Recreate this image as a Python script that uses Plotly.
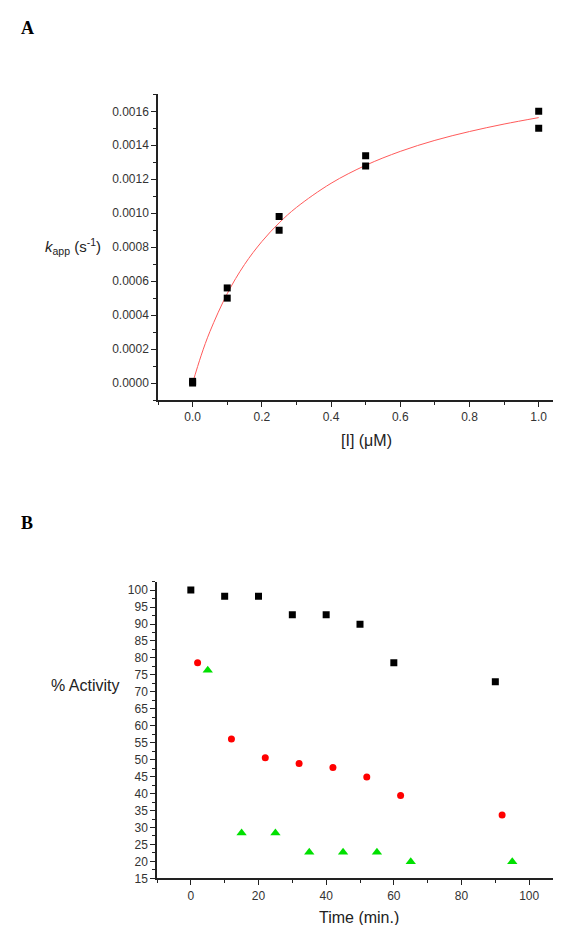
import plotly.graph_objects as go

W, H = 561, 925

# ---------- Panel A data ----------
conc = [0.0, 0.0, 0.1, 0.1, 0.25, 0.25, 0.5, 0.5, 1.0, 1.0]
kapp = [0.00001, 0.0, 0.00056, 0.00050, 0.00098, 0.00090, 0.001338, 0.001278, 0.00160, 0.00150]

fit_x = [0.0, 0.025, 0.05, 0.1, 0.15, 0.2, 0.25, 0.3, 0.4, 0.5, 0.6, 0.7, 0.8, 0.9, 1.0]
fit_y = [0.0, 0.000164, 0.000303, 0.000526, 0.000698, 0.000833, 0.000943, 0.001034,
         0.001176, 0.001282, 0.001364, 0.001429, 0.001481, 0.001525, 0.001563]

# ---------- Panel B data ----------
t_black = [0, 10, 20, 30, 40, 50, 60, 90]
act_black = [100, 98.2, 98.2, 92.7, 92.7, 89.9, 78.6, 73.0]

t_red = [2, 12, 22, 32, 42, 52, 62, 92]
act_red = [78.6, 56.1, 50.6, 48.9, 47.7, 44.9, 39.4, 33.7]

t_green = [5, 15, 25, 35, 45, 55, 65, 95]
act_green = [76.4, 28.4, 28.4, 22.7, 22.7, 22.7, 19.9, 19.9]

FONT = "Liberation Sans, Arial, Helvetica, sans-serif"
SERIF = "Liberation Serif, Times New Roman, serif"
TICKC = "#333333"

fig = go.Figure()

fig.add_trace(go.Scatter(x=fit_x, y=fit_y, mode="lines", line=dict(color="#ff5a5a", width=1, shape="spline"),
                         xaxis="x", yaxis="y", showlegend=False, hoverinfo="skip"))
fig.add_trace(go.Scatter(x=conc, y=kapp, mode="markers",
                         marker=dict(symbol="square", size=7, color="black"),
                         xaxis="x", yaxis="y", showlegend=False))

fig.add_trace(go.Scatter(x=t_black, y=act_black, mode="markers",
                         marker=dict(symbol="square", size=7, color="black"),
                         xaxis="x2", yaxis="y2", showlegend=False))
fig.add_trace(go.Scatter(x=t_red, y=act_red, mode="markers",
                         marker=dict(symbol="circle", size=7, color="#ff0000"),
                         xaxis="x2", yaxis="y2", showlegend=False))
fig.add_trace(go.Scatter(x=t_green, y=act_green, mode="markers",
                         marker=dict(symbol="triangle-up", size=9, color="#00e000"),
                         xaxis="x2", yaxis="y2", showlegend=False))


def px(x):
    return x / W


def py(y):
    return 1 - y / H


axis_common = dict(showline=True, linecolor="#222222", linewidth=1.5, ticks="outside",
                   ticklen=5, tickwidth=1.2, tickcolor="#222222", showgrid=False, zeroline=False,
                   tickfont=dict(family=FONT, size=12, color=TICKC))

fig.update_layout(
    width=W, height=H, margin=dict(l=0, r=0, t=0, b=0),
    plot_bgcolor="white", paper_bgcolor="white",
    xaxis=dict(domain=[px(150), px(548)], anchor="y", range=[-0.1, 1.05], dtick=0.2, tick0=0,
               tickformat=".1f",
               minor=dict(ticks="outside", dtick=0.1, ticklen=3, tickcolor="#222222"), **axis_common),
    yaxis=dict(domain=[py(395), py(87)], anchor="x", range=[-0.0001, 0.0017], dtick=0.0002, tick0=0,
               tickformat=".4f",
               minor=dict(ticks="outside", dtick=0.0001, ticklen=3, tickcolor="#222222"), **axis_common),
    xaxis2=dict(domain=[px(149), px(555)], anchor="y2", range=[-10, 110], dtick=20, tick0=0,
                minor=dict(ticks="outside", dtick=10, ticklen=3, tickcolor="#222222"), **axis_common),
    yaxis2=dict(domain=[py(877), py(578)], anchor="x2", range=[15, 102.5], dtick=5, tick0=0,
                minor=dict(ticks="outside", dtick=2.5, ticklen=3, tickcolor="#222222"), **axis_common),
)

ann = [
    dict(text="<b>A</b>", x=px(19), y=py(20), font=dict(family=SERIF, size=18, color="black")),
    dict(text="<b>B</b>", x=px(19), y=py(519), font=dict(family=SERIF, size=18, color="black")),
    dict(text="<i>k</i><sub>app</sub> (s<sup>-1</sup>)", x=px(65), y=py(240),
         font=dict(family=FONT, size=15, color="#222222")),
    dict(text="[I] (μM)", x=px(358), y=py(436), font=dict(family=FONT, size=16, color="#222222")),
    dict(text="% Activity", x=px(77), y=py(683), font=dict(family=FONT, size=16, color="#222222")),
    dict(text="Time (min.)", x=px(351), y=py(916), font=dict(family=FONT, size=16, color="#222222")),
]
for a in ann:
    fig.add_annotation(xref="paper", yref="paper", showarrow=False, xanchor="center", yanchor="middle", **a)

fig.write_html("out.html")
